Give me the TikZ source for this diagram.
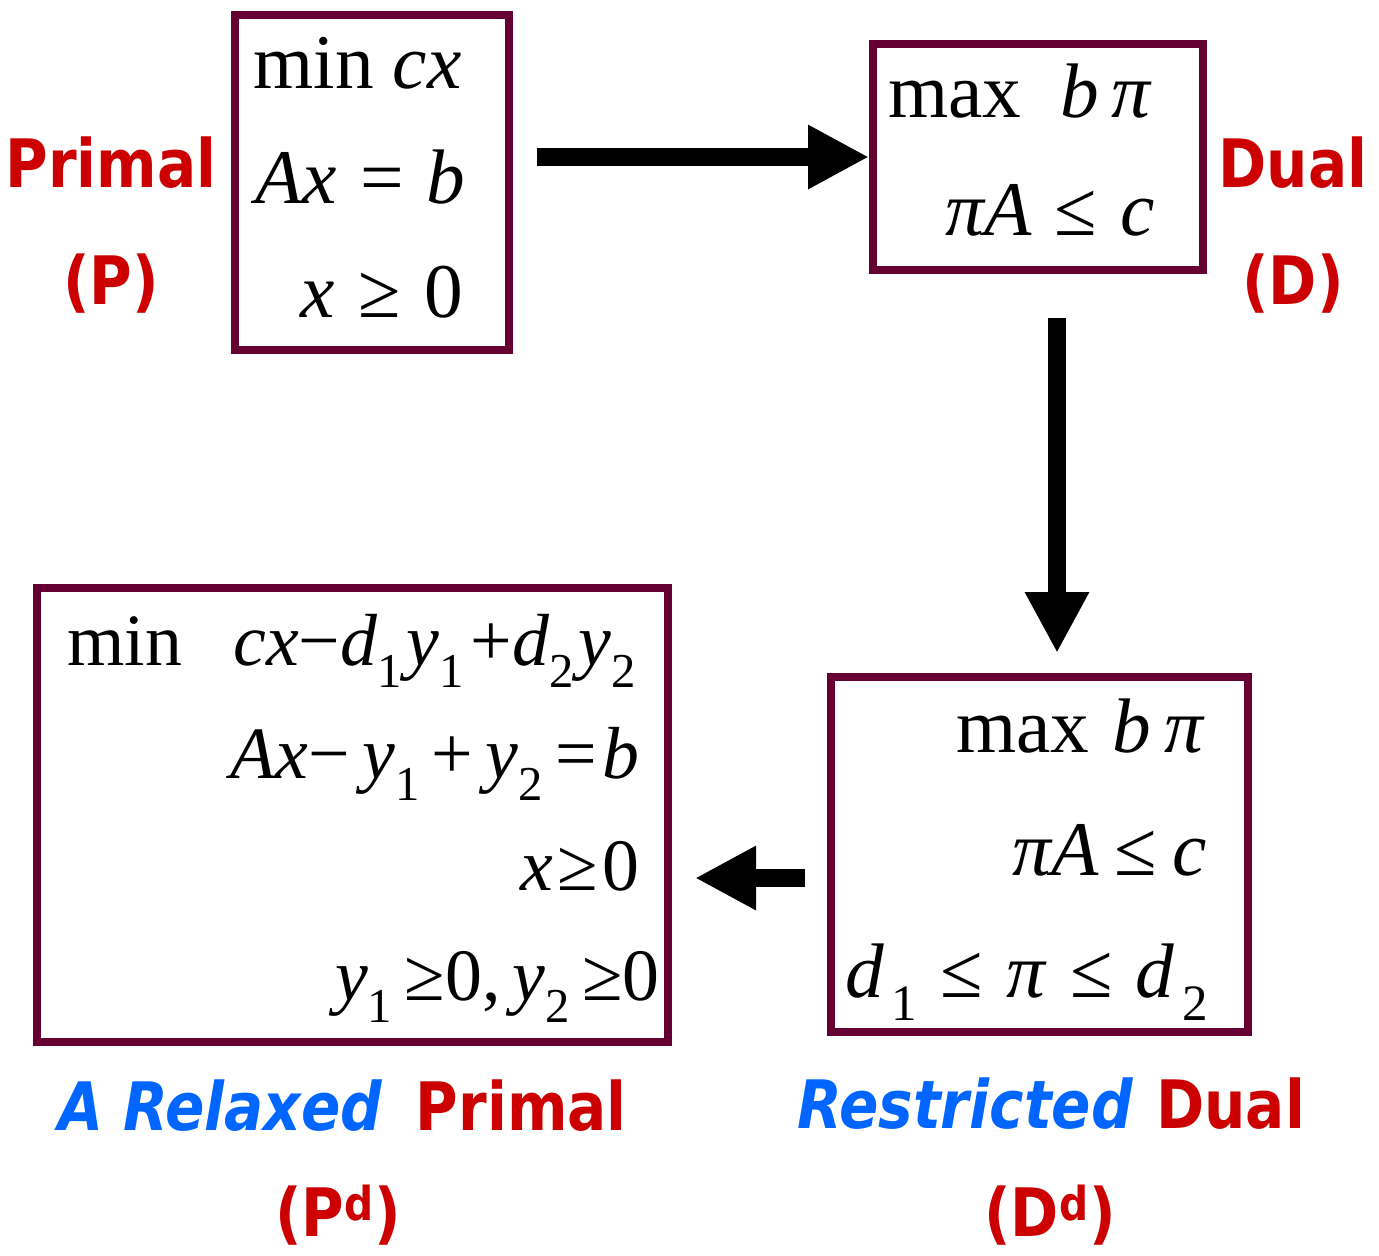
\documentclass[tikz,border=0pt]{standalone}
\usepackage{fontspec}
\setmainfont{Liberation Serif}
\newfontfamily\labfont[FakeStretch=0.87]{DejaVu Sans}
\usetikzlibrary{arrows.meta}
\definecolor{boxc}{HTML}{660033}
\definecolor{labred}{HTML}{CC0000}
\definecolor{labblue}{HTML}{0066FF}
\newcommand\mv[1]{\textit{#1}}
\newcommand\lo[1]{\raisebox{-0.3em}{\scalebox{0.66}{#1}}}
\newcommand\gp{\hspace{0.3em}}
\tikzset{
  lpbox/.style={draw=boxc, line width=0.16cm, inner sep=0pt},
  mtext/.style={inner sep=0pt, font=\fontsize{44}{50}\selectfont},
  mtextsm/.style={inner sep=0pt, font=\fontsize{42}{48}\selectfont},
  lab/.style={inner sep=0pt, text=labred, font=\labfont\bfseries\fontsize{38}{44}\selectfont},
  bigarrow/.style={line width=0.36cm, -{Triangle[length=1.22cm,width=1.2cm]}}
}
\begin{document}
\begin{tikzpicture}
\useasboundingbox (0,0) rectangle (27.58,-25.1);
% boxes
\node[lpbox, minimum width=5.48cm, minimum height=6.7cm] (P) at (7.44,-3.65) {};
\node[lpbox, minimum width=6.6cm, minimum height=4.52cm] (D) at (20.76,-3.14) {};
\node[lpbox, minimum width=12.62cm, minimum height=9.08cm] (Pd) at (7.05,-16.3) {};
\node[lpbox, minimum width=8.34cm, minimum height=7.1cm] (Dd) at (20.79,-17.09) {};
% box P text
\node[mtext, anchor=base west] (p1) at (5.06,-1.76) {min \mv{cx}};
\node[mtext, anchor=base west] (p2) at (5.10,-4.06) {\mv{Ax}\gp=\gp\mv{b}};
\node[mtext, anchor=base east] (p3) at (9.26,-6.34) {\mv{x}\gp≥\gp0};
% box D text
\node[mtext, anchor=base west] (d1) at (17.76,-2.34) {max\hspace{0.5em}\mv{b}\,\mv{π}};
\node[mtext, anchor=base east] (d2) at (23.1,-4.7) {\mv{πA}\gp≤\gp\mv{c}};
% box Pd text
\node[mtextsm, anchor=base west] (pd1a) at (1.34,-13.3) {min};
\node[mtextsm, anchor=base west] (pd1b) at (4.66,-13.3) {\mv{cx}−\mv{d}\lo{1}\kern0.06em\mv{y}\lo{1}\kern0.1em+\mv{d}\lo{2}\kern0.06em\mv{y}\lo{2}};
\node[mtextsm, anchor=base east] (pd2) at (12.8,-15.56) {\mv{Ax}−\,\mv{y}\lo{1}\,+\,\mv{y}\lo{2}\,=\kern0.08em\mv{b}};
\node[mtextsm, anchor=base east] (pd3) at (12.8,-17.8) {\mv{x}\kern0.06em≥\kern0.06em0};
\node[mtextsm, anchor=base east] (pd4) at (13.2,-20.0) {\mv{y}\lo{1}\,≥0,\,\mv{y}\lo{2}\,≥0};
% box Dd text
\node[mtext, anchor=base east] (dd1) at (24.1,-15.04) {max\hspace{0.3em}\mv{b}\,\mv{π}};
\node[mtext, anchor=base east] (dd2) at (24.14,-17.5) {\mv{πA}\hspace{0.2em}≤\hspace{0.2em}\mv{c}};
\node[mtext, anchor=base west] (dd3) at (16.9,-19.94) {\mv{d}\kern0.1em\lo{1}\hspace{0.3em}≤\hspace{0.3em}\mv{π}\hspace{0.3em}≤\hspace{0.3em}\mv{d}\kern0.1em\lo{2}};
% labels
\node[lab, anchor=base] (lP) at (2.22,-3.74) {Primal};
\node[lab, anchor=base] (lP2) at (2.22,-6.08) {(P)};
\node[lab, anchor=base] (lD) at (25.86,-3.74) {Dual};
\node[lab, anchor=base] (lD2) at (25.86,-6.08) {(D)};
\node[lab, anchor=base west] (lPd) at (1.16,-22.6) {{\color{labblue}\itshape A Relaxed}\hspace{0.2em} Primal};
\node[lab, anchor=base] (lPd2) at (6.76,-24.72) {(P\textsuperscript{d})};
\node[lab, anchor=base west] (lDd) at (15.94,-22.56) {{\color{labblue}\itshape Restricted}\hspace{0.05em} Dual};
\node[lab, anchor=base] (lDd2) at (21.0,-24.72) {(D\textsuperscript{d})};
% arrows
\coordinate (a3s) at ([yshift=-0.47cm]Dd.west);
\coordinate (a3e) at (Pd.east |- a3s);
\draw[bigarrow, shorten <=0.48cm] (P.east |- D.west) -- (D.west);
\draw[bigarrow, shorten <=0.88cm, shorten >=0.4cm] ([xshift=0.38cm]D.south) -- ([xshift=0.38cm]D.south |- Dd.north);
\draw[bigarrow, shorten <=0.44cm, shorten >=0.46cm] (a3s) -- (a3e);
\end{tikzpicture}
\end{document}
